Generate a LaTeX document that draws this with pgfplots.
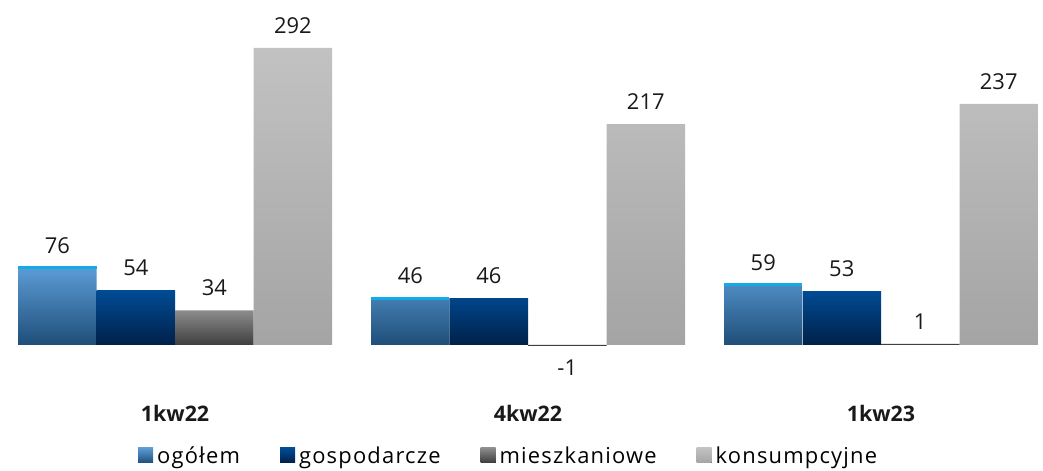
\documentclass[border=0pt]{standalone}
\usepackage{fontspec}
\setmainfont{Open Sans}
\newfontfamily\legfont[LetterSpace=5.5]{Open Sans}
\usepackage{pgfplots}
\pgfplotsset{compat=1.18}
\definecolor{ogTop}{RGB}{91,155,213}
\definecolor{ogBot}{RGB}{31,78,121}
\definecolor{ogLine}{RGB}{20,170,230}
\definecolor{goTop}{RGB}{0,76,150}
\definecolor{goBot}{RGB}{0,32,72}
\definecolor{miTop}{RGB}{140,140,140}
\definecolor{miBot}{RGB}{60,60,60}
\definecolor{koTop}{RGB}{194,194,194}
\definecolor{koBot}{RGB}{164,164,164}
\begin{document}
\begin{tikzpicture}
\begin{axis}[
  width=1043bp, height=470bp, scale only axis,
  xmin=-0.496, xmax=2.459, ymin=-122.9, ymax=339,
  axis lines=none, ticks=none,
  ybar, bar width=0.2224,
  font=\fontsize{22}{26}\selectfont,
  /pgf/number format/assume math mode=true,
  nodes near coords,
  every node near coord/.append style={font=\fontsize{22}{26}\selectfont, text=black!90, inner xsep=0pt, inner ysep=14bp},
  legend style={at={(rel axis cs:0.1294,0.03)}, anchor=west, draw=none, fill=none,
    legend columns=4, font=\legfont\fontsize{22}{26}\selectfont,
    /tikz/every odd column/.append style={column sep=4bp},
    /tikz/every even column/.append style={column sep=40bp},
    nodes={inner xsep=0pt, inner ysep=1bp}},
  legend image code/.code={\fill[#1,draw=none] (0bp,-7bp) rectangle (15bp,8bp);},
]
\path (rel axis cs:0,0) rectangle (rel axis cs:1,1);
\addplot[draw=none, top color=ogTop, bottom color=ogBot, bar shift=-0.3336,
  error bars/.cd, y dir=plus, y explicit, error mark=|,
  error mark options={draw=ogLine, line width=3bp, mark size=39.2bp}]
  table[x=x, y=y, y error=e] {
x y e
0 76 0
1 46 0
2 59 0
};
\addlegendentry{ogółem}
\addplot[draw=none, top color=goTop, bottom color=goBot, bar shift=-0.1112]
  coordinates {(0,54) (1,46) (2,53)};
\addlegendentry{gospodarcze}
\addplot[draw=none, top color=miTop, bottom color=miBot, bar shift=0.1112]
  coordinates {(0,34) (1,-1) (2,1)};
\addlegendentry{mieszkaniowe}
\addplot[draw=none, top color=koTop, bottom color=koBot, bar shift=0.3336]
  coordinates {(0,292) (1,217) (2,237)};
\addlegendentry{konsumpcyjne}
\node[font=\bfseries\fontsize{21.5}{25}\selectfont, text=black!90] at (axis cs:0,-67) {1kw22};
\node[font=\bfseries\fontsize{21.5}{25}\selectfont, text=black!90] at (axis cs:1,-67) {4kw22};
\node[font=\bfseries\fontsize{21.5}{25}\selectfont, text=black!90] at (axis cs:2,-67) {1kw23};
\end{axis}
\end{tikzpicture}
\end{document}
